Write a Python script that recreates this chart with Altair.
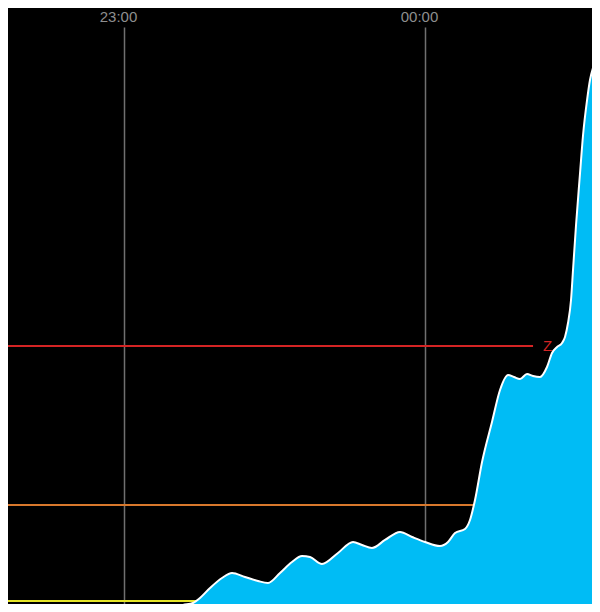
import altair as alt
import pandas as pd

# readings (UTC) and level values
times = [
    "2024-01-01T23:04:47Z", "2024-01-01T23:08:10Z", "2024-01-01T23:10:10Z", "2024-01-01T23:11:46Z",
    "2024-01-01T23:13:45Z", "2024-01-01T23:15:09Z", "2024-01-01T23:17:09Z", "2024-01-01T23:19:32Z",
    "2024-01-01T23:21:32Z", "2024-01-01T23:24:07Z", "2024-01-01T23:26:43Z", "2024-01-01T23:28:42Z",
    "2024-01-01T23:31:06Z", "2024-01-01T23:33:29Z", "2024-01-01T23:35:29Z", "2024-01-01T23:37:05Z",
    "2024-01-01T23:39:28Z", "2024-01-01T23:42:39Z", "2024-01-01T23:45:39Z", "2024-01-01T23:47:27Z",
    "2024-01-01T23:49:26Z", "2024-01-01T23:52:02Z", "2024-01-01T23:55:01Z", "2024-01-01T23:57:25Z",
    "2024-01-02T00:00:00Z", "2024-01-02T00:02:59Z", "2024-01-02T00:04:35Z", "2024-01-02T00:05:59Z",
    "2024-01-02T00:07:58Z", "2024-01-02T00:08:58Z", "2024-01-02T00:09:58Z", "2024-01-02T00:11:22Z",
    "2024-01-02T00:13:21Z", "2024-01-02T00:14:57Z", "2024-01-02T00:16:33Z", "2024-01-02T00:17:44Z",
    "2024-01-02T00:18:56Z", "2024-01-02T00:20:20Z", "2024-01-02T00:21:32Z", "2024-01-02T00:22:55Z",
    "2024-01-02T00:24:19Z", "2024-01-02T00:25:19Z", "2024-01-02T00:26:19Z", "2024-01-02T00:27:19Z",
    "2024-01-02T00:27:54Z", "2024-01-02T00:28:30Z", "2024-01-02T00:29:06Z", "2024-01-02T00:29:30Z",
    "2024-01-02T00:30:06Z", "2024-01-02T00:30:54Z", "2024-01-02T00:31:30Z", "2024-01-02T00:32:18Z",
    "2024-01-02T00:32:53Z", "2024-01-02T00:33:29Z", "2024-01-02T00:34:17Z", "2024-01-02T00:34:53Z",
    "2024-01-02T00:35:41Z",
]
values = [
    0.17, 0.34, 0.85, 1.20,
    1.54, 2.39, 4.10, 5.81,
    6.67, 5.98, 5.30, 4.96,
    6.67, 8.55, 9.57, 9.40,
    8.21, 10.09, 11.97, 11.45,
    10.94, 12.31, 13.68, 12.82,
    11.97, 11.28, 11.97, 13.50,
    14.19, 15.73, 19.15, 25.64,
    32.48, 37.95, 40.51, 40.17,
    39.83, 40.68, 40.34, 40.17,
    41.88, 44.27, 45.30, 45.98,
    47.01, 49.40, 53.33, 58.46,
    66.15, 75.04, 81.54, 87.52,
    90.94, 92.99, 94.53, 95.21,
    96.07,
]

# threshold lines
level_names = ["Z", "orange", "yellow"]
level_values = [45.47, 18.29, 1.88]
level_colors = ["#d42424", "#d8782c", "#e6e628"]
red_start = "2024-01-01T22:30:00Z"
red_end = "2024-01-02T00:21:32Z"

df = pd.DataFrame({"t": times, "v": values})

x_domain = [
    alt.DateTime(year=2024, month=1, date=1, hours=22, minutes=36, seconds=53, utc=True),
    alt.DateTime(year=2024, month=1, date=2, hours=0, minutes=33, seconds=17, utc=True),
]
tick_values = [
    alt.DateTime(year=2024, month=1, date=1, hours=23, minutes=0, utc=True),
    alt.DateTime(year=2024, month=1, date=2, hours=0, minutes=0, utc=True),
]

xscale = alt.Scale(type="utc", domain=x_domain)
yscale = alt.Scale(domain=[1.3675, 100], nice=False, zero=False)

xaxis = alt.Axis(
    orient="top", values=tick_values, labelExpr="utcFormat(datum.value, '%H:%M')",
    domain=False, ticks=False, grid=True, gridColor="#707070", gridWidth=1.5,
    labelColor="#8e8e8e", labelFont="Liberation Sans", labelFontSize=15,
    labelPadding=6, labelBaseline="alphabetic", labelOffset=-6, title=None,
)

base = alt.Chart(df)

area = base.mark_area(
    color="#00BCF5", interpolate="monotone", opacity=1, clip=True,
    line={"color": "white", "strokeWidth": 2},
).encode(
    x=alt.X("t:T", scale=xscale, axis=xaxis),
    y=alt.Y("v:Q", scale=yscale, axis=None),
    y2=alt.datum(0),
)

full_rules = alt.Chart(pd.DataFrame({
    "level": level_values[1:], "name": level_names[1:], "color": level_colors[1:],
})).mark_rule(strokeWidth=2, clip=True).encode(
    y=alt.Y("level:Q", scale=yscale, axis=None),
    color=alt.Color("color:N", scale=None),
)

red_df = pd.DataFrame({
    "start": [red_start], "end": [red_end],
    "level": [level_values[0]], "name": [level_names[0]],
})
red_rule = alt.Chart(red_df).mark_rule(strokeWidth=2, color=level_colors[0], clip=True).encode(
    x=alt.X("start:T", scale=xscale, axis=xaxis),
    x2="end:T",
    y=alt.Y("level:Q", scale=yscale, axis=None),
)
red_text = alt.Chart(red_df).mark_text(
    align="left", baseline="middle", dx=10, color=level_colors[0],
    font="Liberation Sans", fontSize=15,
).encode(
    x=alt.X("end:T", scale=xscale, axis=xaxis),
    y=alt.Y("level:Q", scale=yscale, axis=None),
    text="name:N",
)

chart = alt.layer(full_rules, red_rule, red_text, area).properties(
    width=584, height=577, background="black",
    padding={"top": 19, "left": 0, "right": 0, "bottom": 0},
    autosize=alt.AutoSizeParams(type="none"),
).configure_view(stroke=None)

chart.save("out.html", embed_options={"renderer": "svg", "actions": False})
